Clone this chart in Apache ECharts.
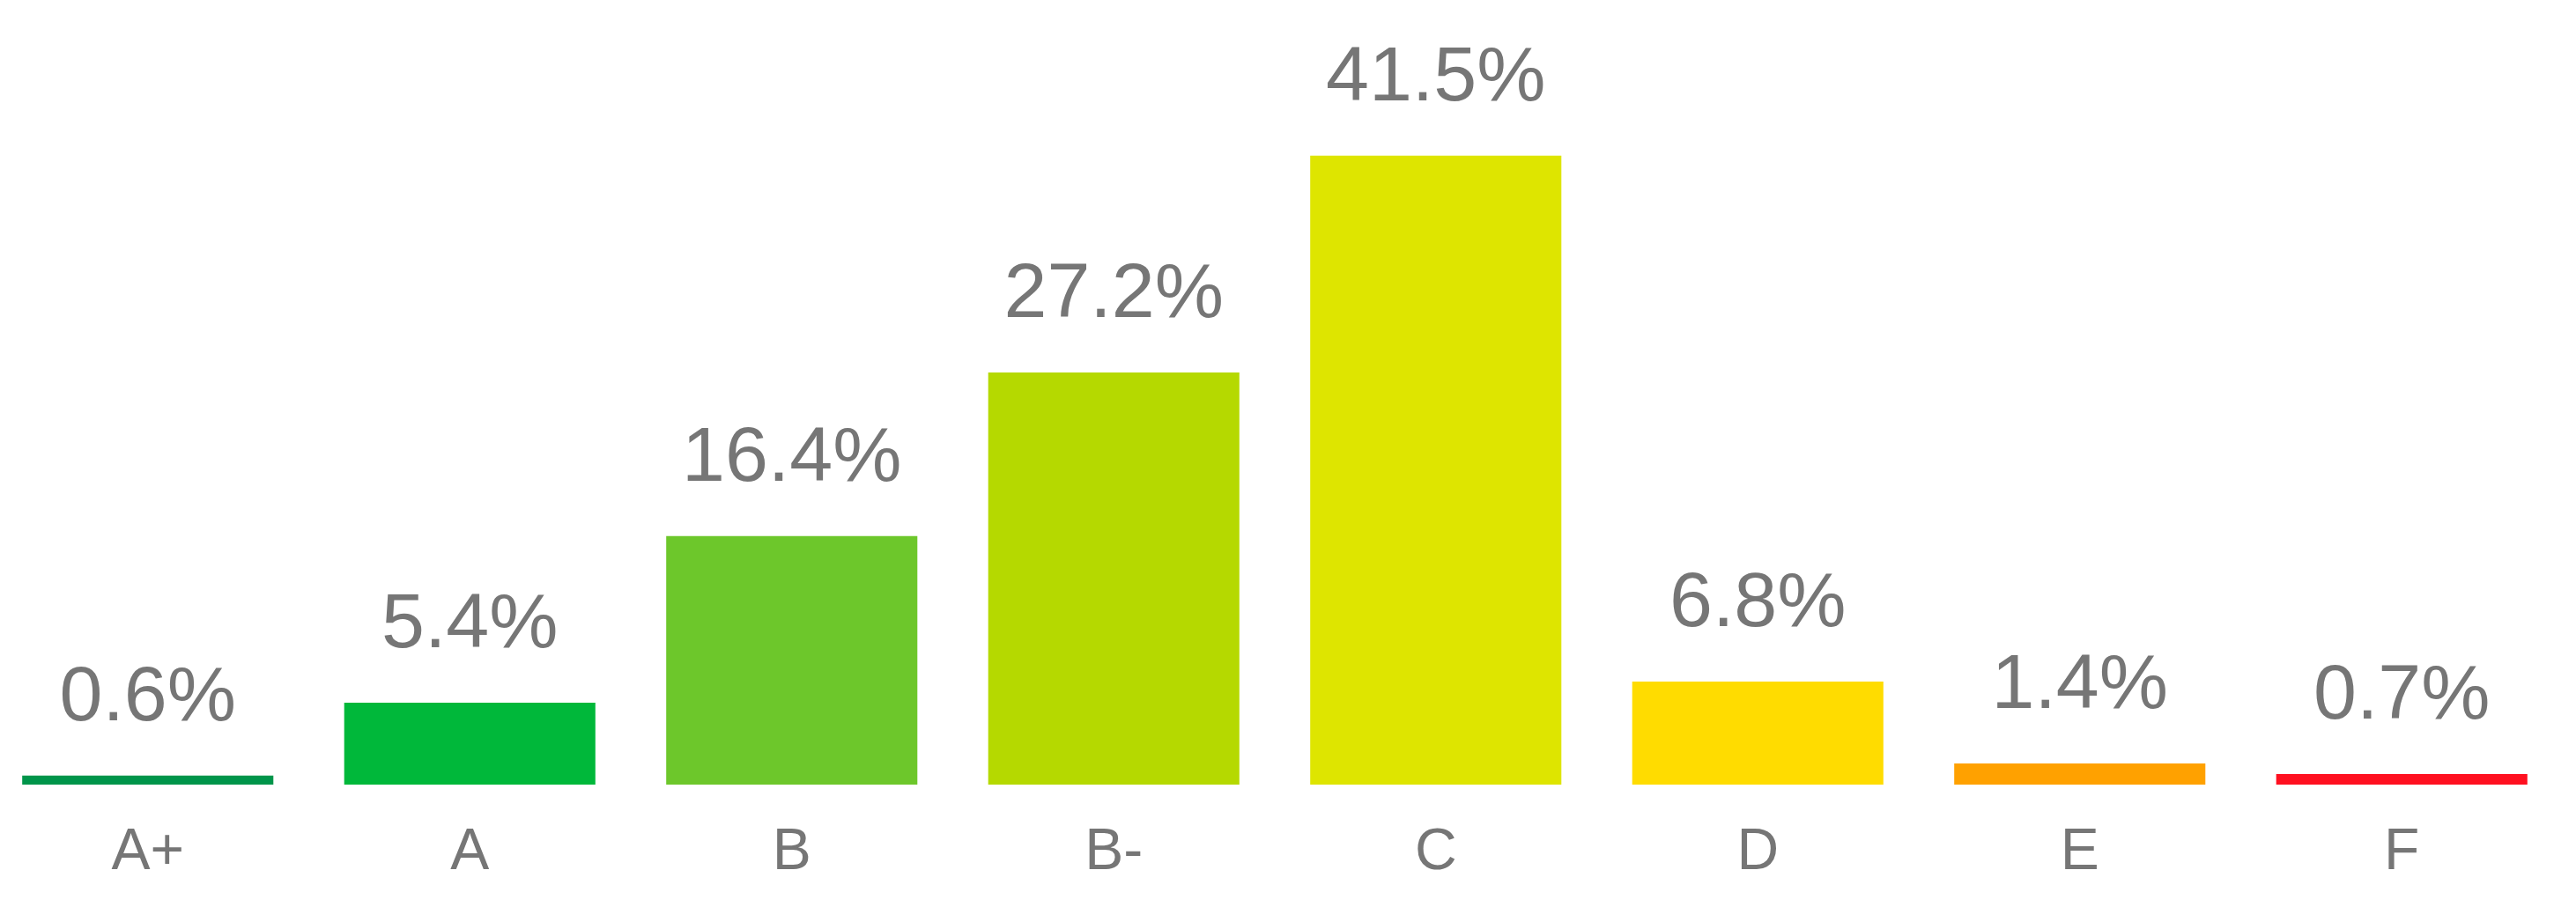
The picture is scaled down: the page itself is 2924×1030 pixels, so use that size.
<!DOCTYPE html>
<html>
<head>
<meta charset="utf-8">
<script src="https://cdn.jsdelivr.net/npm/echarts@6/dist/echarts.min.js"></script>
<style>
html,body{margin:0;padding:0;background:#fff;overflow:hidden;width:2924px;height:1030px;}
#chart{position:absolute;left:-15px;top:0;width:2939px;height:1030px;}
</style>
</head>
<body>
<div id="chart"></div>
<script>
const categories = ['A+', 'A', 'B', 'B-', 'C', 'D', 'E', 'F'];
const values = [0.6, 5.4, 16.4, 27.2, 41.5, 6.8, 1.4, 0.7];
const barColors = ['#00954a', '#00b83a', '#6dc72b', '#b5d900', '#dee500', '#ffdc00', '#ffa100', '#ff1020'];

const chart = echarts.init(document.getElementById('chart'), null, {renderer: 'canvas'});
chart.setOption({
  animation: false,
  backgroundColor: '#ffffff',
  grid: {left: 0, right: 15, top: 30.5, bottom: 139, containLabel: false},
  xAxis: {
    type: 'category',
    data: categories,
    axisLine: {show: false},
    axisTick: {show: false},
    axisLabel: {color: '#767676', fontSize: 66, fontFamily: 'Liberation Sans', margin: 45}
  },
  yAxis: {
    type: 'value', min: 0, max: 50,
    show: false,
    splitLine: {show: false}
  },
  series: [{
    type: 'bar',
    data: values.map((v, i) => ({value: v, itemStyle: {color: barColors[i]}})),
    barCategoryGap: '22%',
    label: {
      show: true,
      position: 'top',
      distance: 43,
      color: '#767676',
      fontSize: 88,
      fontFamily: 'Liberation Sans',
      formatter: p => p.value.toFixed(1) + '%'
    }
  }]
});
</script>
</body>
</html>
